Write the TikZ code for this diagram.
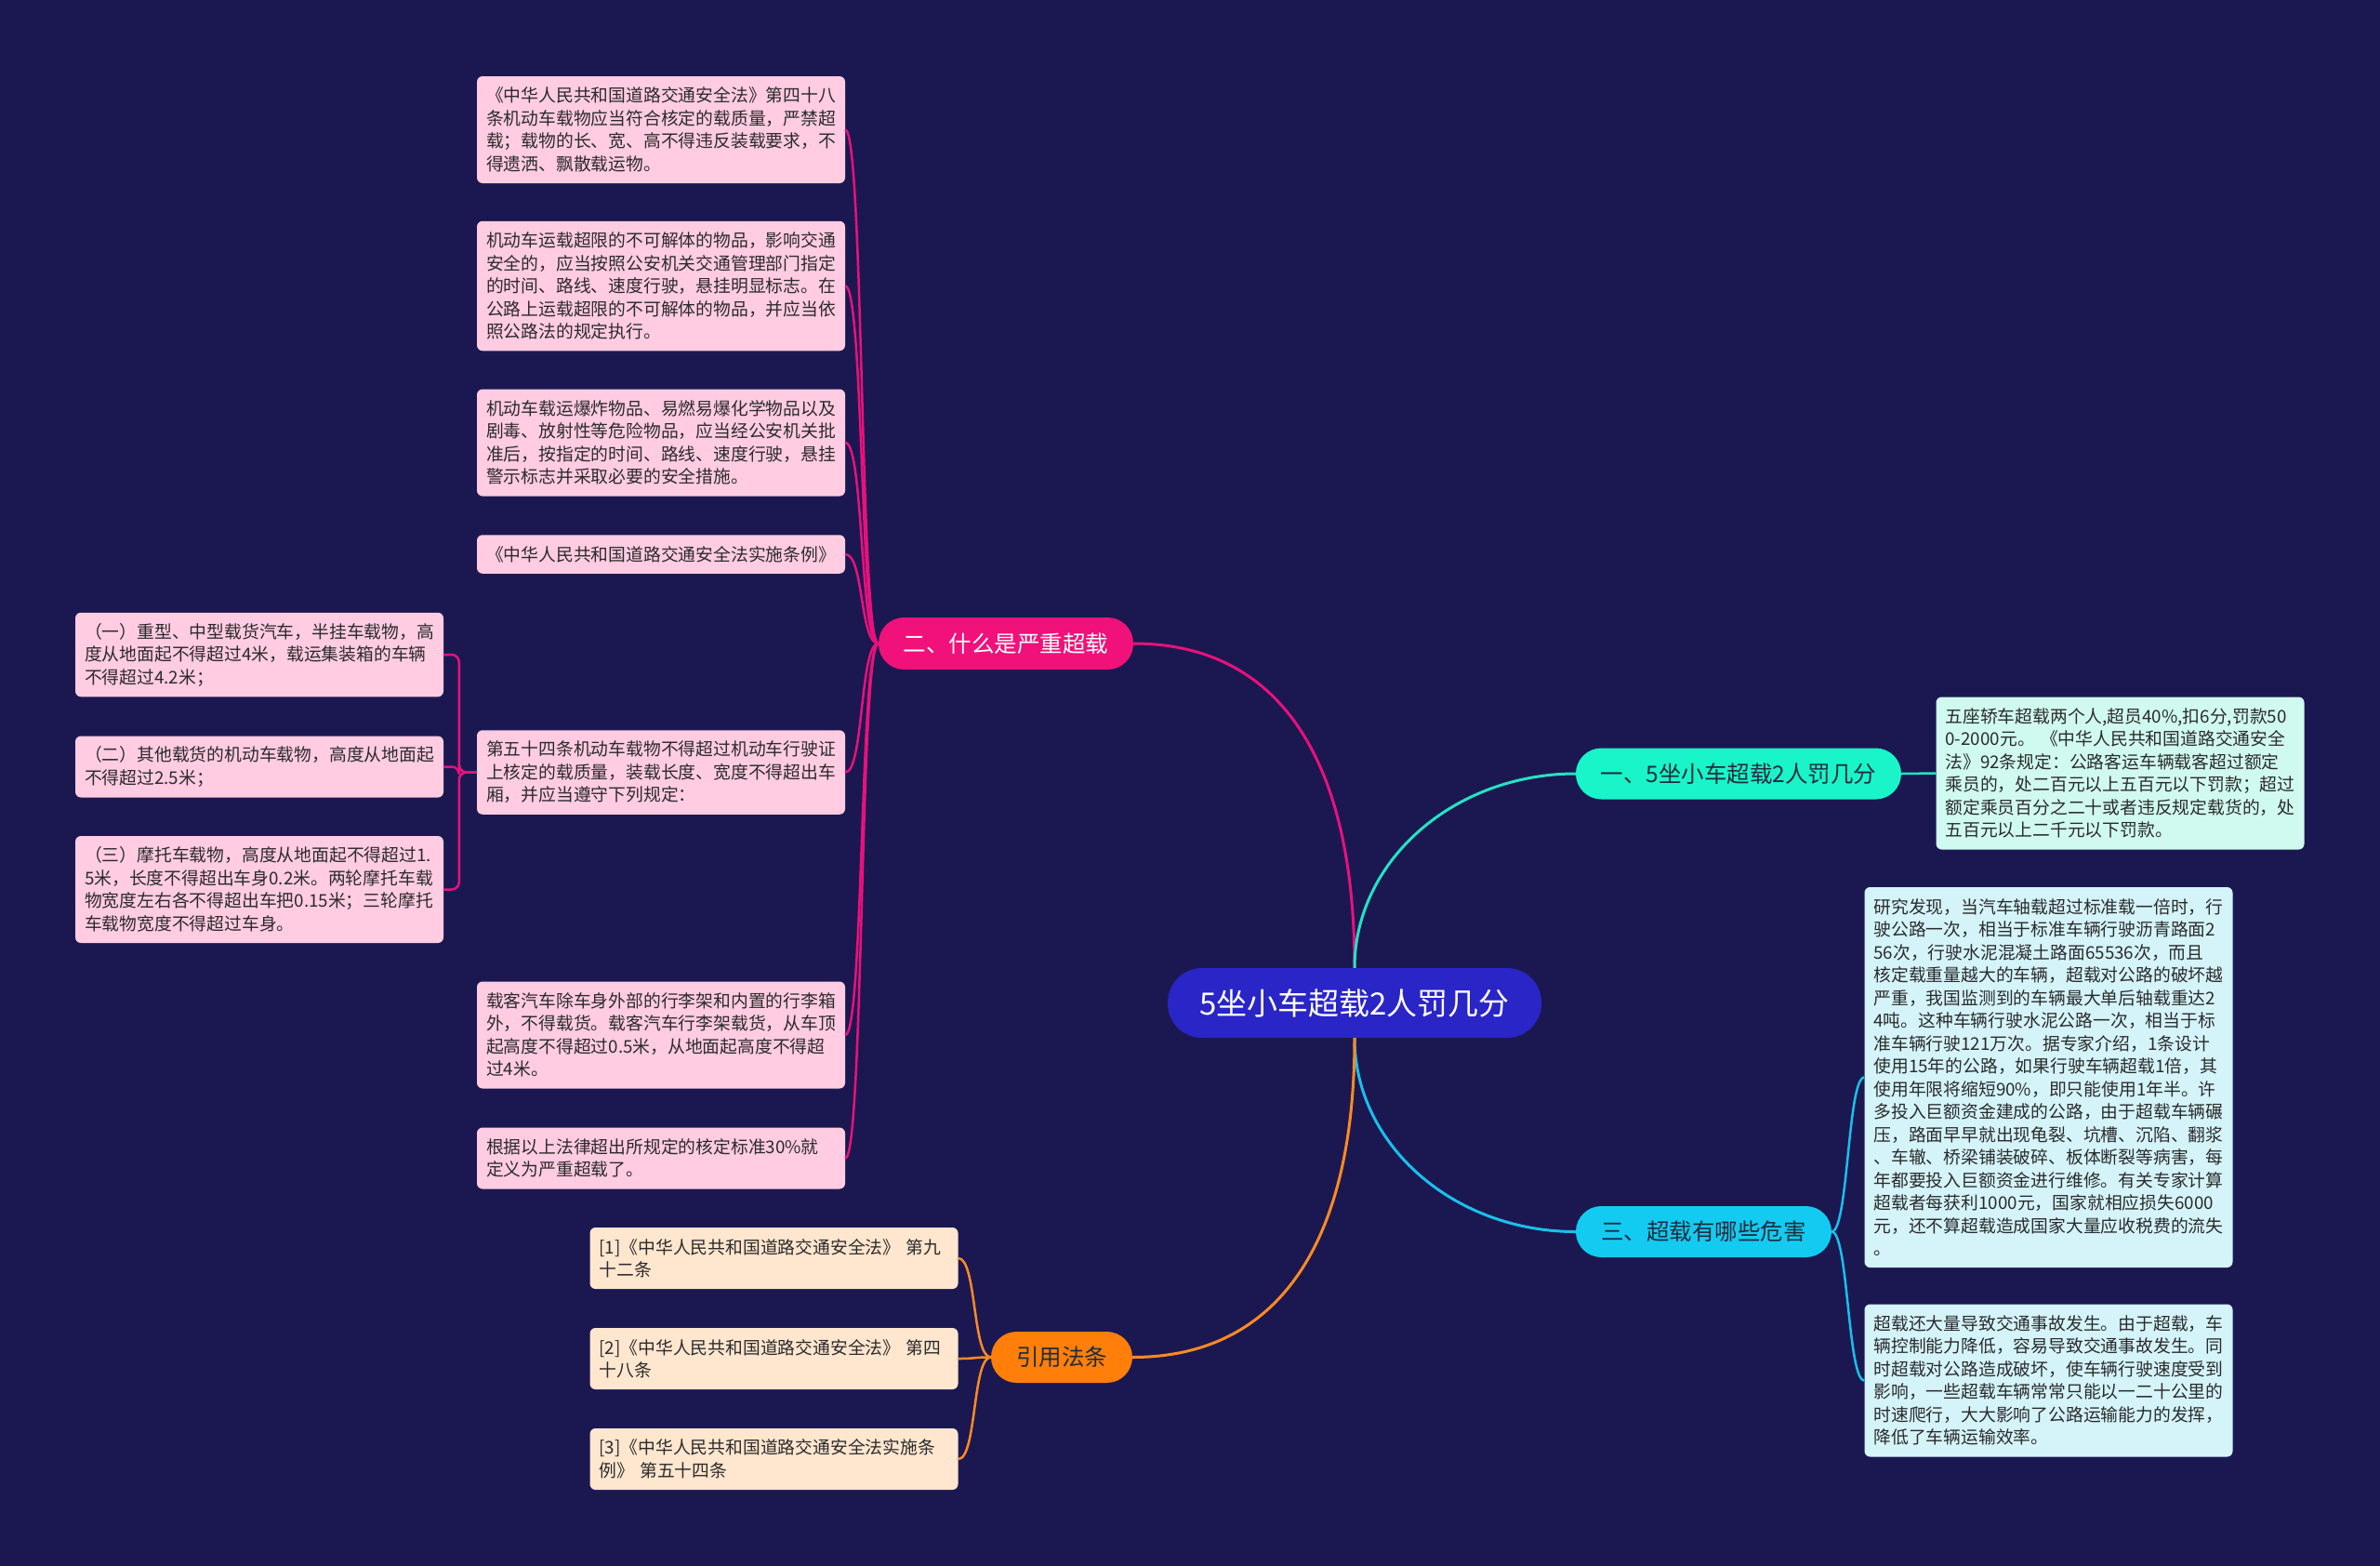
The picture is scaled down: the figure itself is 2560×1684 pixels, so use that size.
\documentclass[tikz,border=0pt]{standalone}
\usepackage{fontspec}
\setmainfont{Noto Sans CJK SC}
\definecolor{bg}{HTML}{1B1851}
\definecolor{centerfill}{HTML}{2A25C7}
\definecolor{erfill}{HTML}{F0117A}
\definecolor{onefill}{HTML}{19F5C8}
\definecolor{threefill}{HTML}{13CBF1}
\definecolor{yinfill}{HTML}{FF7F0A}
\definecolor{pinkfill}{HTML}{FFCCE1}
\definecolor{mintfill}{HTML}{D0FAEF}
\definecolor{cyanfill}{HTML}{D4F4FA}
\definecolor{peachfill}{HTML}{FFE6CF}
\definecolor{pinkline}{HTML}{E8117C}
\definecolor{mintline}{HTML}{24E3C3}
\definecolor{cyanline}{HTML}{19C0EA}
\definecolor{orangeline}{HTML}{FF8A22}
\definecolor{leaftext}{HTML}{2B2B2B}
\definecolor{darktext}{HTML}{1F2D3D}
\tikzset{
  leaf/.style={rounded corners=6pt, text width=376pt, inner xsep=10pt, inner ysep=0pt,
    align=left, font=\fontsize{18.8}{24.5}\selectfont, text=leaftext},
  pinkleaf/.style={leaf, fill=pinkfill},
  mintleaf/.style={leaf, fill=mintfill},
  cyanleaf/.style={leaf, fill=cyanfill},
  peachleaf/.style={leaf, fill=peachfill},
  pill/.style={rounded corners=27.5pt, minimum height=55pt, inner sep=0pt,
    font=\fontsize{24.5}{28}\selectfont},
  mainline/.style={line width=3pt},
  childline/.style={line width=2.5pt},
}
\begin{document}
\begin{tikzpicture}[x=1pt,y=-1pt]
\fill[bg] (0,0) rectangle (2560,1684);
\useasboundingbox (0,0) rectangle (2560,1684);

% main nodes
\node[rounded corners=37pt, minimum width=402pt, minimum height=75pt, inner sep=0pt,
  fill=centerfill, text=white, font=\fontsize{33}{38}\selectfont] (c) at (1457,1078.5) {5坐小车超载2人罚几分};
\node[pill, fill=erfill, text=white, minimum width=274pt, minimum height=56pt] (er) at (1082,692) {二、什么是严重超载};
\node[pill, fill=onefill, text=darktext, minimum width=350pt] (one) at (1870,832) {一、5坐小车超载2人罚几分};
\node[pill, fill=threefill, text=darktext, minimum width=275pt] (three) at (1832.5,1324.5) {三、超载有哪些危害};
\node[pill, fill=yinfill, text=darktext, minimum width=152pt] (yin) at (1142,1459.5) {引用法条};

% main connectors
\draw[mainline, pinkline] (c.north) .. controls +(0,-227) and +(155,0) .. (er.east);
\draw[mainline, mintline] (c.north) .. controls +(0,-115) and +(-131,0) .. (one.west);
\draw[mainline, cyanline] (c.south) .. controls +(0,115) and +(-131,0) .. (three.west);
\draw[mainline, orangeline] (c.south) .. controls +(0,223) and +(155,0) .. (yin.east);

% branch 二 children
\node[pinkleaf, minimum height=115pt] (A) at (711,139.5) {《中华人民共和国道路交通安全法》第四十八\\条机动车载物应当符合核定的载质量，严禁超\\载；载物的长、宽、高不得违反装载要求，不\\得遗洒、飘散载运物。};
\node[pinkleaf, minimum height=139.5pt] (B) at (711,307.5) {机动车运载超限的不可解体的物品，影响交通\\安全的，应当按照公安机关交通管理部门指定\\的时间、路线、速度行驶，悬挂明显标志。在\\公路上运载超限的不可解体的物品，并应当依\\照公路法的规定执行。};
\node[pinkleaf, minimum height=115pt] (C) at (711,476) {机动车载运爆炸物品、易燃易爆化学物品以及\\剧毒、放射性等危险物品，应当经公安机关批\\准后，按指定的时间、路线、速度行驶，悬挂\\警示标志并采取必要的安全措施。};
\node[pinkleaf, minimum height=41.5pt] (D) at (711,596) {《中华人民共和国道路交通安全法实施条例》};
\node[pinkleaf, minimum height=90.5pt] (E) at (711,830.5) {第五十四条机动车载物不得超过机动车行驶证\\上核定的载质量，装载长度、宽度不得超出车\\厢，并应当遵守下列规定：};
\node[pinkleaf, minimum height=115pt] (F) at (711,1113) {载客汽车除车身外部的行李架和内置的行李箱\\外，不得载货。载客汽车行李架载货，从车顶\\起高度不得超过0.5米，从地面起高度不得超\\过4米。};
\node[pinkleaf, minimum height=66pt] (G) at (711,1245.5) {根据以上法律超出所规定的核定标准30\%就\\定义为严重超载了。};

\node[pinkleaf, minimum height=90.5pt] (E1) at (279,704) {（一）重型、中型载货汽车，半挂车载物，高\\度从地面起不得超过4米，载运集装箱的车辆\\不得超过4.2米；};
\node[pinkleaf, minimum height=66pt] (E2) at (279,824.5) {（二）其他载货的机动车载物，高度从地面起\\不得超过2.5米；};
\node[pinkleaf, minimum height=115pt] (E3) at (279,956.5) {（三）摩托车载物，高度从地面起不得超过1.\\5米，长度不得超出车身0.2米。两轮摩托车载\\物宽度左右各不得超出车把0.15米；三轮摩托\\车载物宽度不得超过车身。};

\foreach \n in {A,B,C,D,E,F,G}
  \draw[childline, pinkline] (er.west) .. controls +(-20,0) and +(20,0) .. (\n.east);
\foreach \n in {E1,E2,E3}
  \draw[childline, pinkline, rounded corners=8pt] (E.west) -- ++(-19,0) |- (\n.east);

% branch 一 child
\node[mintleaf, minimum height=164pt] (J) at (2280.5,831.5) {五座轿车超载两个人,超员40\%,扣6分,罚款50\\0-2000元。 《中华人民共和国道路交通安全\\法》92条规定：公路客运车辆载客超过额定\\乘员的，处二百元以上五百元以下罚款；超过\\额定乘员百分之二十或者违反规定载货的，处\\五百元以上二千元以下罚款。};
\draw[childline, mintline] (one.east) -- (J.west);

% branch 三 children
\node[cyanleaf, minimum height=409pt] (H) at (2203.5,1158.5) {研究发现，当汽车轴载超过标准载一倍时，行\\驶公路一次，相当于标准车辆行驶沥青路面2\\56次，行驶水泥混凝土路面65536次，而且\\核定载重量越大的车辆，超载对公路的破坏越\\严重，我国监测到的车辆最大单后轴载重达2\\4吨。这种车辆行驶水泥公路一次，相当于标\\准车辆行驶121万次。据专家介绍，1条设计\\使用15年的公路，如果行驶车辆超载1倍，其\\使用年限将缩短90\%，即只能使用1年半。许\\多投入巨额资金建成的公路，由于超载车辆碾\\压，路面早早就出现龟裂、坑槽、沉陷、翻浆\\、车辙、桥梁铺装破碎、板体断裂等病害，每\\年都要投入巨额资金进行维修。有关专家计算\\超载者每获利1000元，国家就相应损失6000\\元，还不算超载造成国家大量应收税费的流失\\。};
\node[cyanleaf, minimum height=164pt] (I) at (2203.5,1484.5) {超载还大量导致交通事故发生。由于超载，车\\辆控制能力降低，容易导致交通事故发生。同\\时超载对公路造成破坏，使车辆行驶速度受到\\影响，一些超载车辆常常只能以一二十公里的\\时速爬行，大大影响了公路运输能力的发挥，\\降低了车辆运输效率。};
\foreach \n in {H,I}
  \draw[childline, cyanline] (three.east) .. controls +(18,0) and +(-18,0) .. (\n.west);

% 引用法条 children
\node[peachleaf, minimum height=66pt] (K1) at (832.5,1353) {[1]《中华人民共和国道路交通安全法》 第九\\十二条};
\node[peachleaf, minimum height=66pt] (K2) at (832.5,1461) {[2]《中华人民共和国道路交通安全法》 第四\\十八条};
\node[peachleaf, minimum height=66pt] (K3) at (832.5,1569) {[3]《中华人民共和国道路交通安全法实施条\\例》 第五十四条};
\foreach \n in {K1,K2,K3}
  \draw[childline, orangeline] (yin.west) .. controls +(-20,0) and +(20,0) .. (\n.east);
\end{tikzpicture}
\end{document}
